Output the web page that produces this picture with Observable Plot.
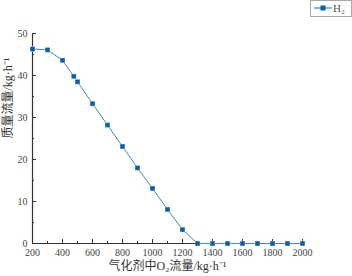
<!DOCTYPE html>
<html>
<head>
<meta charset="utf-8">
<script src="https://cdn.jsdelivr.net/npm/d3@7"></script>
<script src="https://cdn.jsdelivr.net/npm/@observablehq/plot@0.6"></script>
<style>
  html, body { margin: 0; padding: 0; background: #fff; }
  #chart { position: relative; width: 352px; height: 276px; }
</style>
</head>
<body>
<div id="chart"></div>
<script>
const o2Flow = [200, 300, 400, 475, 500, 600, 700, 800, 900, 1000, 1100, 1200, 1300, 1400, 1500, 1600, 1700, 1800, 1900, 2000];
const h2Mass = [46.3, 46.1, 43.6, 39.8, 38.5, 33.3, 28.2, 23.1, 18.0, 13.1, 8.1, 3.3, 0, 0, 0, 0, 0, 0, 0, 0];
const xTicks = [200, 400, 600, 800, 1000, 1200, 1400, 1600, 1800, 2000];
const xMinor = [300, 500, 700, 900, 1100, 1300, 1500, 1700, 1900];
const yTicks = [0, 10, 20, 30, 40, 50];
const yMinor = [5, 15, 25, 35, 45];
const seriesName = "H₂";
const xLabel = "气化剂中O₂流量/kg·h⁻¹";
const yLabel = "质量流量/kg·h⁻¹";

const data = o2Flow.map((x, i) => ({x, y: h2Mass[i]}));
const font = "'Liberation Serif', 'Noto Sans CJK SC', serif";
const axisColor = "#333";
const lineColor = "#3a8ccc";
const markColor = "#0a5ea8";

const plot = Plot.plot({
  width: 352,
  height: 276,
  marginLeft: 32,
  marginRight: 50,
  marginTop: 33,
  marginBottom: 33,
  style: {fontFamily: font, fontSize: "10px", color: "#444", background: "#fff"},
  x: {domain: [200, 2000]},
  y: {domain: [0, 50]},
  marks: [
    Plot.axisX({ticks: xTicks, tickSize: -4, tickPadding: 9, tickFormat: d => String(d), label: null, stroke: axisColor, fill: "#444"}),
    Plot.axisX({ticks: xMinor, tickSize: -2, text: null, label: null, stroke: axisColor}),
    Plot.axisY({ticks: yTicks, tickSize: -4, tickPadding: 9, label: null, stroke: axisColor, fill: "#444"}),
    Plot.axisY({ticks: yMinor, tickSize: -2, text: null, label: null, stroke: axisColor}),
    Plot.ruleX([200], {stroke: axisColor, strokeWidth: 1.2}),
    Plot.ruleY([0], {stroke: axisColor, strokeWidth: 1.2}),
    Plot.line(data, {x: "x", y: "y", stroke: lineColor, strokeWidth: 1}),
    Plot.dot(data, {x: "x", y: "y", symbol: "square", r: 2.8, fill: markColor, stroke: "#fff", strokeWidth: 0.4}),
    Plot.text([xLabel], {frameAnchor: "bottom", dy: 26, text: d => d, fontSize: 12, fill: "#333", fontFamily: font}),
    Plot.text([yLabel], {frameAnchor: "left", dx: -24, rotate: -90, text: d => d, fontSize: 12, fill: "#333", fontFamily: font})
  ]
});

const svg = d3.select(plot);
// legend box
const lg = svg.append("g").attr("class", "legend");
lg.append("rect").attr("x", 310.5).attr("y", 0.5).attr("width", 41).attr("height", 16)
  .attr("fill", "#fff").attr("stroke", "#aaa").attr("stroke-width", 1);
lg.append("line").attr("x1", 314).attr("x2", 332).attr("y1", 8).attr("y2", 8)
  .attr("stroke", lineColor).attr("stroke-width", 1.2);
lg.append("rect").attr("x", 320.5).attr("y", 5.5).attr("width", 5).attr("height", 5).attr("fill", markColor);
lg.append("text").attr("x", 339).attr("y", 12).attr("font-family", font).attr("font-size", 11)
  .attr("fill", "#555").text(seriesName);

document.getElementById("chart").appendChild(plot);
</script>
</body>
</html>
